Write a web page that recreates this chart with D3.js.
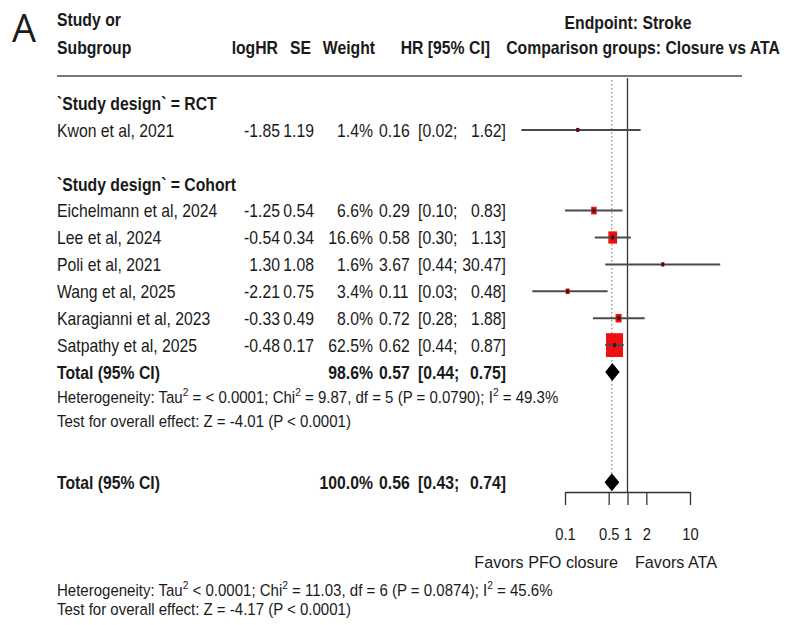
<!DOCTYPE html>
<html><head><meta charset="utf-8">
<script src="https://cdn.jsdelivr.net/npm/d3@7"></script>
<style>
body{margin:0;background:#fff;}
svg text{font-family:"Liberation Sans Narrow","Arial Narrow","Liberation Sans",Arial,sans-serif;fill:#1a1a1a;}
</style></head>
<body><svg id="c" width="788" height="625"></svg>
<script>
// ---- data ----
const studies = ["Kwon et al, 2021","Eichelmann et al, 2024","Lee et al, 2024","Poli et al, 2021","Wang et al, 2025","Karagianni et al, 2023","Satpathy et al, 2025"];
const design  = ["RCT","Cohort","Cohort","Cohort","Cohort","Cohort","Cohort"];
const logHR   = ["-1.85","-1.25","-0.54","1.30","-2.21","-0.33","-0.48"];
const se      = ["1.19","0.54","0.34","1.08","0.75","0.49","0.17"];
const weight  = [1.4,6.6,16.6,1.6,3.4,8.0,62.5];
const hr      = [0.16,0.29,0.58,3.67,0.11,0.72,0.62];
const lower   = [0.02,0.10,0.30,0.44,0.03,0.28,0.44];
const upper   = [1.62,0.83,1.13,30.47,0.48,1.88,0.87];
const subTotal = {weight:98.6, hr:0.57, lower:0.44, upper:0.75};
const overall  = {weight:100.0, hr:0.56, lower:0.43, upper:0.74};
const tickVals = [0.1,0.5,1,2,10];
const subHet  = ["Heterogeneity: Tau",{sup:"2"}," = < 0.0001; Chi",{sup:"2"}," = 9.87, df = 5 (P = 0.0790); I",{sup:"2"}," = 49.3%"];
const subTest = "Test for overall effect: Z = -4.01 (P < 0.0001)";
const allHet  = ["Heterogeneity: Tau",{sup:"2"}," < 0.0001; Chi",{sup:"2"}," = 11.03, df = 6 (P = 0.0874); I",{sup:"2"}," = 45.6%"];
const allTest = "Test for overall effect: Z = -4.17 (P < 0.0001)";

// Liberation Sans Narrow may be missing: detect and compress regular Liberation Sans instead
const probe = document.createElement("canvas").getContext("2d");
probe.font = "100px 'Liberation Sans Narrow'"; const wN = probe.measureText("Eichelmann et al").width;
probe.font = "100px 'Liberation Sans'"; const wR = probe.measureText("Eichelmann et al").width;
const NARROW = (wN < wR*0.9) ? 1/0.82 : 1;

const svg = d3.select("#c");
const x = d3.scaleLog().domain([0.1,10]).range([565,690]);
const y = d3.scaleLinear().domain([0,1]).range([103,129.9]); // row index -> y centre
const FS = 19, SX = 0.83;
const fmt2 = d3.format(".2f");
const pct = d3.format(".1f");

function txt(xp, yp, s, opt={}){
  const sx = Math.min(1,(opt.sx||SX)*NARROW);
  return svg.append("text").attr("transform",`translate(${xp},${yp}) scale(${sx},1)`)
    .attr("dy","0.36em")
    .attr("font-size",opt.fs||FS).attr("font-weight",opt.bold?"bold":null)
    .attr("text-anchor",opt.anchor||"start").text(s);
}
function richTxt(xp, yp, parts, fs, sx){
  const t = svg.append("text").attr("transform",`translate(${xp},${yp}) scale(${Math.min(1,sx*NARROW)},1)`)
    .attr("y", fs*0.36).attr("font-size",fs);
  const up = fs*0.42;
  let pending = 0;
  parts.forEach(p=>{
    if(typeof p==="string"){ t.append("tspan").attr("dy",pending).text(p); pending = 0; }
    else { t.append("tspan").attr("dy",-up).attr("font-size",fs*0.68).text(p.sup); pending = up; }
  });
}

// panel letter
svg.append("text").attr("x",12).attr("y",42).attr("font-size",38)
  .style("font-family","'Open Sans','Liberation Sans',sans-serif").text("A");

// header
txt(57,19,"Study or",{bold:true});
txt(57,47,"Subgroup",{bold:true});
txt(278,47,"logHR",{bold:true,anchor:"end"});
txt(311,47,"SE",{bold:true,anchor:"end"});
txt(375,47,"Weight",{bold:true,anchor:"end"});
txt(490,47,"HR [95% CI]",{bold:true,anchor:"end"});
txt(628,22,"Endpoint: Stroke",{bold:true,anchor:"middle"});
txt(643,47,"Comparison groups: Closure vs ATA",{bold:true,anchor:"middle"});
svg.append("line").attr("x1",57).attr("x2",742).attr("y1",76).attr("y2",76)
  .attr("stroke","#777").attr("stroke-width",2);

// row positions
const rowIdx = [1,4,5,6,7,8,9];
const subRow = 10, hetRow = 10.93, testRow = 11.83, allRow = 14.1;

// reference lines
svg.append("line").attr("x1",x(1)).attr("x2",x(1)).attr("y1",78).attr("y2",492)
  .attr("stroke","#333").attr("stroke-width",1.3);
svg.append("line").attr("x1",x(overall.hr)).attr("x2",x(overall.hr)).attr("y1",80).attr("y2",y(allRow)-9)
  .attr("stroke","#888").attr("stroke-width",1.2).attr("stroke-dasharray","1.5,2.5");

// subgroup headers
txt(57,y(0),"`Study design` = RCT",{bold:true});
txt(57,y(3),"`Study design` = Cohort",{bold:true});

function ciText(yp, est, lo, up, bold){
  txt(379,yp,fmt2(est),{bold});
  txt(418,yp,"["+fmt2(lo)+";",{bold});
  txt(506,yp,fmt2(up)+"]",{bold,anchor:"end"});
}

studies.forEach((s,i)=>{
  const yp = y(rowIdx[i]);
  txt(57,yp,s);
  txt(280,yp,logHR[i],{anchor:"end"});
  txt(314,yp,se[i],{anchor:"end"});
  txt(373,yp,pct(weight[i])+"%",{anchor:"end"});
  ciText(yp,hr[i],lower[i],upper[i],false);
  const w = 2.15*Math.sqrt(weight[i]), h = w*1.4;
  svg.append("rect").attr("x",x(hr[i])-w/2).attr("y",yp-h/2).attr("width",w).attr("height",h)
    .attr("fill","#ee1010");
  svg.append("line").attr("x1",x(lower[i])).attr("x2",x(upper[i])).attr("y1",yp).attr("y2",yp)
    .attr("stroke","#4a4a4a").attr("stroke-width",2);
  svg.append("rect").attr("x",x(hr[i])-1.5).attr("y",yp-2).attr("width",3).attr("height",4)
    .attr("fill","#5a0a0a");
});

function diamond(d, yp){
  const hh = 9;
  svg.append("path").attr("d",`M${x(d.lower)},${yp}L${x(d.hr)},${yp-hh}L${x(d.upper)},${yp}L${x(d.hr)},${yp+hh}Z`)
    .attr("fill","#000");
}
// subgroup total
txt(57,y(subRow),"Total (95% CI)",{bold:true});
txt(373,y(subRow),pct(subTotal.weight)+"%",{bold:true,anchor:"end"});
ciText(y(subRow),subTotal.hr,subTotal.lower,subTotal.upper,true);
diamond(subTotal,y(subRow));
richTxt(57,y(hetRow),subHet,16.5,0.91);
txt(57,y(testRow),subTest,{fs:16.5,sx:0.91});

// overall
txt(57,y(allRow),"Total (95% CI)",{bold:true});
txt(373,y(allRow),pct(overall.weight)+"%",{bold:true,anchor:"end"});
ciText(y(allRow),overall.hr,overall.lower,overall.upper,true);
diamond(overall,y(allRow));

// axis
const ax = svg.append("g").attr("transform","translate(0,492)")
  .call(d3.axisBottom(x).tickValues(tickVals).tickFormat(d=>String(d)).tickSize(13).tickSizeOuter(0).tickPadding(24));
ax.select(".domain").attr("stroke","#333").attr("stroke-width",1.3);
ax.selectAll(".tick line").attr("stroke","#333").attr("stroke-width",1.3);
ax.selectAll(".tick text").attr("font-size",16).attr("font-family",null).attr("fill","#1a1a1a")
  .attr("transform",`scale(${Math.min(1,0.92*NARROW)},1)`);
txt(618,562,"Favors PFO closure",{anchor:"end",fs:16.5,sx:0.98});
txt(635,562,"Favors ATA",{fs:16.5,sx:0.98});

richTxt(57,590,allHet,16.5,0.91);
txt(57,609,allTest,{fs:16.5,sx:0.91});
</script></body></html>
